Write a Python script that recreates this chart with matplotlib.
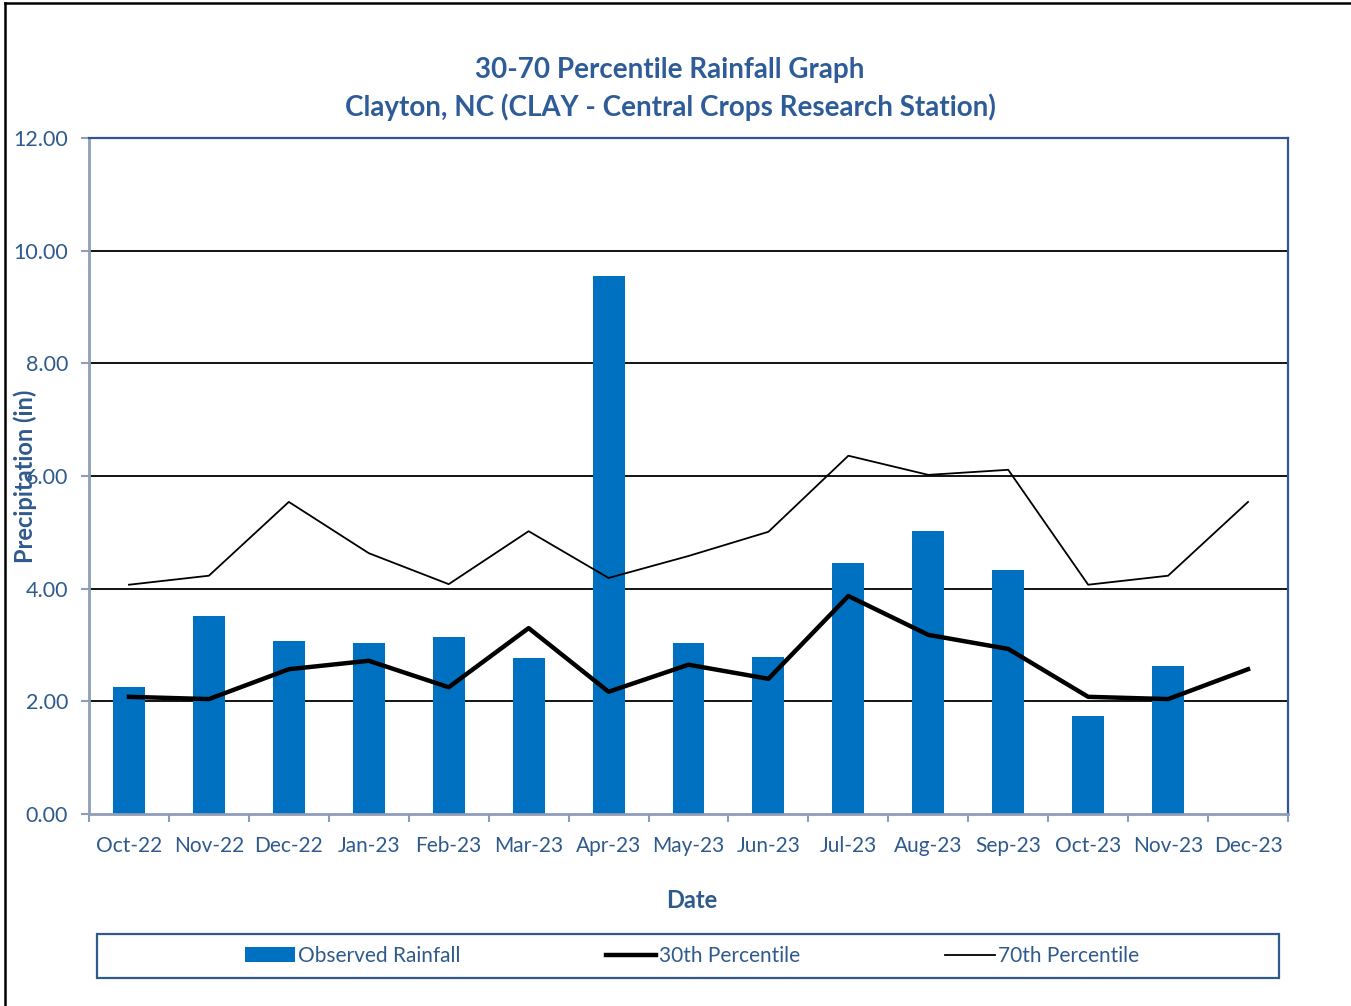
import matplotlib.pyplot as plt
from matplotlib.lines import Line2D
from matplotlib.patches import Rectangle

months = ["Oct-22", "Nov-22", "Dec-22", "Jan-23", "Feb-23", "Mar-23", "Apr-23", "May-23",
          "Jun-23", "Jul-23", "Aug-23", "Sep-23", "Oct-23", "Nov-23", "Dec-23"]
observed = [2.25, 3.51, 3.07, 3.04, 3.14, 2.77, 9.55, 3.04, 2.79, 4.46, 5.02, 4.33, 1.74, 2.63, None]
p30 = [2.08, 2.04, 2.57, 2.72, 2.25, 3.30, 2.17, 2.65, 2.40, 3.87, 3.18, 2.93, 2.08, 2.04, 2.57]
p70 = [4.07, 4.23, 5.54, 4.63, 4.08, 5.02, 4.19, 4.58, 5.01, 6.36, 6.02, 6.11, 4.07, 4.23, 5.54]

txt = "#2F5A8C"
plt.rcParams['font.family'] = ['Lato', 'DejaVu Sans']

fig = plt.figure(figsize=(13.51, 10.06), dpi=100)
ax = fig.add_axes([89 / 1351, 1 - 814 / 1006, 1199 / 1351, 676 / 1006])

x = list(range(len(months)))
bx = [i for i in x if observed[i] is not None]
by = [observed[i] for i in bx]
bars = ax.bar(bx, by, width=0.4, color="#0070C0", zorder=2, label="Observed Rainfall")
l30, = ax.plot(x, p30, color="black", lw=3.2, zorder=3, label="30th Percentile")
l70, = ax.plot(x, p70, color="black", lw=1.3, zorder=3, label="70th Percentile")

ax.set_xlim(-0.5, len(months) - 0.5)
ax.set_ylim(0, 12)
ax.set_yticks([0, 2, 4, 6, 8, 10, 12])
ax.set_yticklabels(["%.2f" % v for v in [0, 2, 4, 6, 8, 10, 12]])
ax.set_xticks(x)
ax.set_xticklabels(months)
ax.set_xticks([i - 0.5 for i in range(len(months) + 1)], minor=True)
ax.tick_params(axis="x", which="major", length=0, pad=16, labelsize=15, labelcolor=txt)
ax.tick_params(axis="x", which="minor", length=6, width=1.5, color="#8E9EB8", direction="out")
ax.tick_params(axis="y", length=6, width=1.5, color="#8E9EB8", labelsize=15.5, labelcolor=txt, pad=9)
for v in [2, 4, 6, 8, 10]:
    ax.axhline(v, color="black", lw=1.3, zorder=1)

ax.spines["left"].set_color("#8E9EB8")
ax.spines["bottom"].set_color("#8E9EB8")
ax.spines["left"].set_linewidth(2)
ax.spines["bottom"].set_linewidth(2)
ax.spines["top"].set_color("#2F5597")
ax.spines["right"].set_color("#2F5597")
ax.spines["top"].set_linewidth(1.6)
ax.spines["right"].set_linewidth(1.6)

fig.text(670 / 1351, 1 - 70 / 1006, "30-70 Percentile Rainfall Graph", ha="center", va="center",
         fontsize=20, fontweight="bold", color="#2E5C99")
fig.text(670 / 1351, 1 - 107 / 1006, "Clayton, NC (CLAY - Central Crops Research Station)", ha="center",
         va="center", fontsize=20, fontweight="bold", color="#2E5C99")
fig.text(25 / 1351, 1 - 476 / 1006, "Precipitation (in)", rotation=90, ha="center", va="center",
         fontsize=17, fontweight="bold", color=txt)
fig.text(692 / 1351, 1 - 900 / 1006, "Date", ha="center", va="center",
         fontsize=17, fontweight="bold", color=txt)

# legend box
fig.patches.append(Rectangle((97 / 1351, 1 - 978 / 1006), 1182 / 1351, 44 / 1006,
                             transform=fig.transFigure, fill=False, edgecolor="#2F5A8C", lw=1.6))
fs = 15
leg = fig.legend(handles=[bars, l30, l70], loc="center", bbox_to_anchor=(692 / 1351, 1 - 956 / 1006),
                 ncol=3, frameon=False, fontsize=fs, handlelength=50 / (fs * 100 / 72),
                 handletextpad=0.15, columnspacing=145 / (fs * 100 / 72))
for t in leg.get_texts():
    t.set_color(txt)

# outer border (left and top)
fig.add_artist(Line2D([5 / 1351, 5 / 1351], [0, 1 - 3 / 1006], transform=fig.transFigure, color="black", lw=1.8))
fig.add_artist(Line2D([5 / 1351, 1], [1 - 3 / 1006, 1 - 3 / 1006], transform=fig.transFigure, color="black", lw=1.8))

fig.savefig("out.png", dpi=100)
